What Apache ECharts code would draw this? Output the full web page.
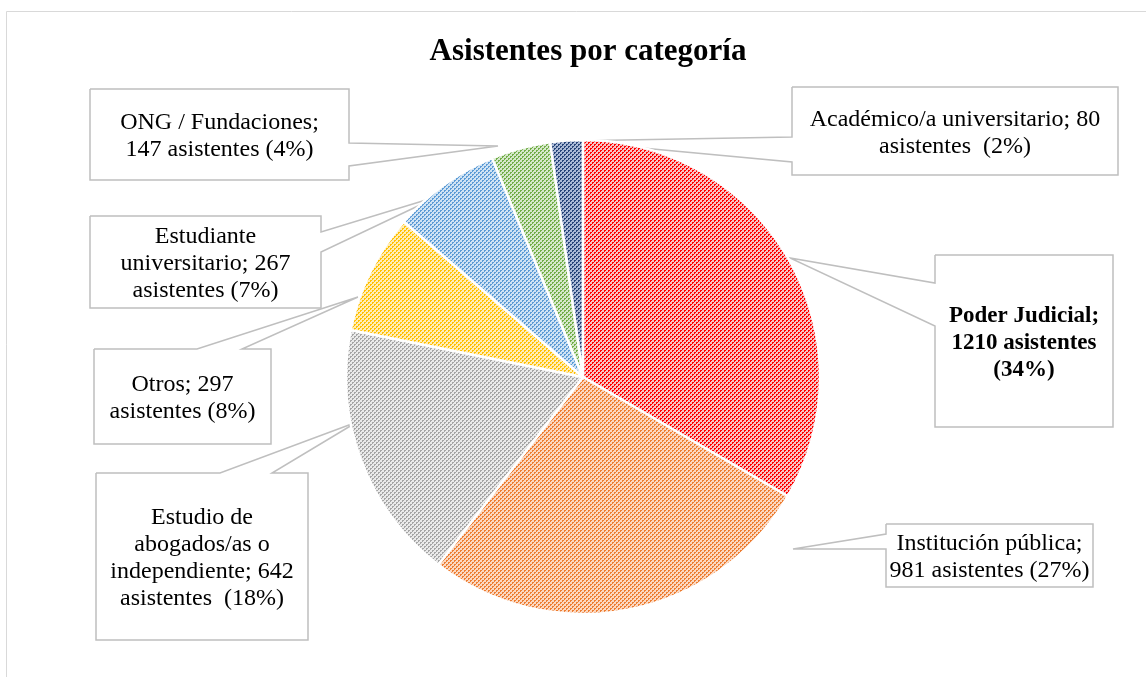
<!DOCTYPE html>
<html>
<head>
<meta charset="utf-8">
<script src="https://cdn.jsdelivr.net/npm/echarts@6/dist/echarts.min.js"></script>
<style>
html,body{margin:0;padding:0;background:#ffffff;}
#chart{width:1146px;height:677px;}
</style>
</head>
<body>
<div id="chart"></div>
<script>
// ---------------- data ----------------
const chartTitle = "Asistentes por categoría";
const categories = [
  "Poder Judicial",
  "Institución pública",
  "Estudio de abogados/as o independiente",
  "Otros",
  "Estudiante universitario",
  "ONG / Fundaciones",
  "Académico/a universitario"
];
const values = [1210, 981, 642, 297, 267, 147, 80];
const labelTexts = [
  "Poder Judicial;\n1210 asistentes\n(34%)",
  "Institución pública;\n981 asistentes (27%)",
  "Estudio de\nabogados/as o\nindependiente; 642\nasistentes  (18%)",
  "Otros; 297\nasistentes (8%)",
  "Estudiante\nuniversitario; 267\nasistentes (7%)",
  "ONG / Fundaciones;\n147 asistentes (4%)",
  "Académico/a universitario; 80\nasistentes  (2%)"
];

// ---------------- styles ----------------
const lineColors = ["#FF0000", "#ED7D31", "#A5A5A5", "#FFC000", "#5B9BD5", "#70AD47", "#264478"];
const tintColors = ["#F8C4C4", "#FBD8C1", "#EAEAEA", "#FFEDB8", "#D0E3F4", "#D6E8CA", "#AAB9D6"];
const boldLabel = [true, false, false, false, false, false, false];

// callout boxes: [x0,y0,x1,y1], side of the pointer, attach coords, pointer tip
const callouts = [
  {box: [935, 255, 1113, 427], side: "left",  a: 283, b: 326, tip: [790, 258]},
  {box: [886, 524, 1093, 587], side: "left",  a: 534, b: 549, tip: [793, 549]},
  {box: [96, 473, 308, 640],   side: "top",   a: 220, b: 272, tip: [357, 422]},
  {box: [94, 349, 271, 444],   side: "top",   a: 197, b: 242, tip: [358, 297]},
  {box: [90, 216, 321, 308],   side: "right", a: 232, b: 252, tip: [439, 196]},
  {box: [90, 89, 349, 180],    side: "right", a: 143, b: 166, tip: [498, 146]},
  {box: [792, 87, 1118, 175],  side: "left",  a: 137, b: 162, tip: [567, 141]}
];

function makePattern(line, tint) {
  const c = document.createElement("canvas");
  c.width = 4; c.height = 4;
  const ctx = c.getContext("2d");
  ctx.fillStyle = tint;
  ctx.fillRect(0, 0, 4, 4);
  ctx.fillStyle = line;
  for (let x = 0; x < 4; x++) {
    ctx.fillRect(x, 3 - x, 1, 1);
    if (x % 2 === 0) ctx.fillRect(x, (6 - x) % 4, 1, 1);
  }
  return {image: c, repeat: "repeat"};
}

function calloutOutline(c) {
  const [x0, y0, x1, y1] = c.box;
  const t = c.tip;
  const pts = [[x0, y0]];
  if (c.side === "top") pts.push([c.a, y0], t, [c.b, y0]);
  pts.push([x1, y0]);
  if (c.side === "right") pts.push([x1, c.a], t, [x1, c.b]);
  pts.push([x1, y1]);
  pts.push([x0, y1]);
  if (c.side === "left") pts.push([x0, c.b], t, [x0, c.a]);
  pts.push([x0, y0]);
  return pts;
}

const seriesData = categories.map((name, i) => ({
  name: name,
  value: values[i],
  itemStyle: {color: makePattern(lineColors[i], tintColors[i])},
  label: {
    formatter: labelTexts[i],
    fontWeight: boldLabel[i] ? "bold" : "normal",
    fontSize: boldLabel[i] ? 23 : 24
  }
}));

const chart = echarts.init(document.getElementById("chart"), null, {renderer: "canvas"});
chart.setOption({
  animation: false,
  backgroundColor: "#ffffff",
  title: {
    text: chartTitle,
    left: 583,
    textAlign: "center",
    top: 31,
    textStyle: {
      fontFamily: "Liberation Serif",
      fontWeight: "bold",
      fontSize: 31,
      color: "#000000"
    }
  },
  graphic: [{
    type: "rect",
    shape: {x: 6.5, y: 11.5, width: 1200, height: 700},
    style: {fill: null, stroke: "#D9D9D9", lineWidth: 1},
    silent: true,
    z: -1
  }],
  series: [{
    type: "pie",
    center: [583, 377],
    radius: 237,
    startAngle: 90,
    clockwise: true,
    avoidLabelOverlap: false,
    minShowLabelAngle: 0,
    emphasis: {disabled: true},
    itemStyle: {borderColor: "#ffffff", borderWidth: 2.5},
    label: {
      show: true,
      position: "outside",
      color: "#000000",
      fontFamily: "Liberation Serif",
      lineHeight: 27,
      align: "center"
    },
    labelLine: {
      show: true,
      lineStyle: {color: "#BFBFBF", width: 1.5}
    },
    labelLayout: function (params) {
      const c = callouts[params.dataIndex];
      const [x0, y0, x1, y1] = c.box;
      return {
        x: (x0 + x1) / 2,
        y: (y0 + y1) / 2 + 2,
        align: "center",
        verticalAlign: "middle",
        labelLinePoints: calloutOutline(c)
      };
    },
    data: seriesData
  }]
});
</script>
</body>
</html>
